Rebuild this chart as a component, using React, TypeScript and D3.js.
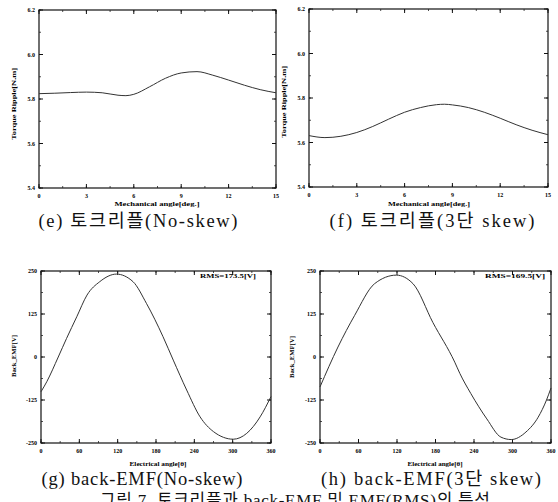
import React from "react";
import * as d3 from "d3";

const W = 558;
const H = 502;

// (e) torque ripple, no skew
const angleE = [0, 1, 2, 3, 4, 5, 5.5, 6, 7, 8, 9, 10, 11, 12, 13, 14, 15];
const rippleE = [5.824, 5.826, 5.829, 5.831, 5.828, 5.817, 5.815, 5.821, 5.855, 5.893, 5.917, 5.923, 5.907, 5.885, 5.862, 5.842, 5.828];

// (f) torque ripple, 3-step skew
const angleF = [0, 1, 2, 3, 4, 5, 6, 7, 8, 8.5, 9, 10, 11, 12, 13, 14, 15];
const rippleF = [5.631, 5.622, 5.628, 5.645, 5.672, 5.705, 5.736, 5.757, 5.77, 5.772, 5.769, 5.757, 5.736, 5.709, 5.68, 5.655, 5.635];

// (g) back-EMF, no skew
const angleG = [0, 9, 27, 40, 56, 72, 92, 118, 144, 165, 191, 207, 228, 249, 270, 301, 322, 343, 360];
const emfG = [-101, -72, 0, 54, 117, 180, 219, 241, 219, 156, 59, -9, -96, -174, -217, -239, -222, -174, -115];

// (h) back-EMF, 3-step skew
const angleH = [0, 28, 54, 85, 119, 145, 176, 210, 218, 235, 260, 282, 298, 321, 340, 353, 360];
const emfH = [-87, 29, 121, 213, 238, 213, 100, -15, -48, -106, -180, -233, -240, -218, -175, -125, -90];

const torqueXTicks = [0, 3, 6, 9, 12, 15];
const torqueYTicks = [5.4, 5.6, 5.8, 6.0, 6.2];
const emfXTicks = [0, 60, 120, 180, 240, 300, 360];
const emfYTicks = [-250, -125, 0, 125, 250];

const SERIF = "'Liberation Serif', 'Times New Roman', serif";
const KR = "'Liberation Serif', 'Noto Sans CJK KR', serif";

type PanelProps = {
  box: [number, number, number, number];
  xDomain: [number, number];
  yDomain: [number, number];
  xTicks: number[];
  yTicks: number[];
  xMinorStep: number;
  yMinorStep: number;
  yFmt: (v: number) => string;
  xs: number[];
  ys: number[];
  yLabel: string;
  yLabelPos: [number, number, number];
  xLabel: string;
  xLabelPos: [number, number, number];
  caption: string;
  captionPos: [number, number, number];
  rms?: string;
  rmsPos?: [number, number, number];
};

function Panel(p: PanelProps) {
  const [x0, x1, y0, y1] = p.box;
  const x = d3.scaleLinear().domain(p.xDomain).range([x0, x1]);
  const y = d3.scaleLinear().domain(p.yDomain).range([y1, y0]);
  const line = d3
    .line<number>()
    .x((_, i) => x(p.xs[i]))
    .y((d) => y(d))
    .curve(d3.curveMonotoneX);

  const xMinor = d3.range(p.xDomain[0], p.xDomain[1] + 1e-9, p.xMinorStep);
  const yMinor = d3.range(p.yDomain[0], p.yDomain[1] + 1e-9, p.yMinorStep);

  return (
    <g>
      <rect x={x0} y={y0} width={x1 - x0} height={y1 - y0} fill="none" stroke="#111" strokeWidth={1.2} />
      {/* minor ticks */}
      {xMinor.map((v, i) => (
        <g key={"xm" + i} stroke="#222" strokeWidth={0.8}>
          <line x1={x(v)} x2={x(v)} y1={y1} y2={y1 - 2} />
          <line x1={x(v)} x2={x(v)} y1={y0} y2={y0 + 2} />
        </g>
      ))}
      {yMinor.map((v, i) => (
        <g key={"ym" + i} stroke="#222" strokeWidth={0.8}>
          <line x1={x0} x2={x0 + 2} y1={y(v)} y2={y(v)} />
          <line x1={x1} x2={x1 - 2} y1={y(v)} y2={y(v)} />
        </g>
      ))}
      {/* major ticks + labels */}
      {p.xTicks.map((v) => (
        <g key={"xt" + v}>
          <line x1={x(v)} x2={x(v)} y1={y1} y2={y1 - 4} stroke="#111" strokeWidth={1} />
          <line x1={x(v)} x2={x(v)} y1={y0} y2={y0 + 4} stroke="#111" strokeWidth={1} />
          <text x={x(v)} y={y1 + 10} textAnchor="middle" fontFamily={SERIF} fontWeight="bold" fontSize={6}>
            {v}
          </text>
        </g>
      ))}
      {p.yTicks.map((v) => (
        <g key={"yt" + v}>
          <line x1={x0} x2={x0 + 4} y1={y(v)} y2={y(v)} stroke="#111" strokeWidth={1} />
          <line x1={x1} x2={x1 - 4} y1={y(v)} y2={y(v)} stroke="#111" strokeWidth={1} />
          <text x={x0 - 4} y={y(v) + 2} textAnchor="end" fontFamily={SERIF} fontWeight="bold" fontSize={6}>
            {p.yFmt(v)}
          </text>
        </g>
      ))}
      <path d={line(p.ys) || ""} fill="none" stroke="#333" strokeWidth={1} />
      <text
        transform={`translate(${p.yLabelPos[0]},${p.yLabelPos[1]}) rotate(-90)`}
        textAnchor="middle"
        fontFamily={SERIF}
        fontWeight="bold"
        fontSize={7}
        textLength={p.yLabelPos[2]}
        lengthAdjust="spacingAndGlyphs"
      >
        {p.yLabel}
      </text>
      <text
        x={p.xLabelPos[0] - p.xLabelPos[2] / 2}
        y={p.xLabelPos[1]}
        fontFamily={SERIF}
        fontWeight="bold"
        fontSize={7}
        textLength={p.xLabelPos[2]}
        lengthAdjust="spacingAndGlyphs"
      >
        {p.xLabel}
      </text>
      {p.rms && p.rmsPos && (
        <text
          x={p.rmsPos[0]}
          y={p.rmsPos[1]}
          fontFamily={SERIF}
          fontWeight="bold"
          fontSize={7}
          textLength={p.rmsPos[2]}
          lengthAdjust="spacingAndGlyphs"
        >
          {p.rms}
        </text>
      )}
      <text
        x={p.captionPos[0] - p.captionPos[2] / 2}
        y={p.captionPos[1]}
        fontFamily={KR}
        fontSize={18.5}
        fill="#111"
        textLength={p.captionPos[2]}
        lengthAdjust="spacing"
      >
        {p.caption}
      </text>
    </g>
  );
}

export default function App() {
  const f1 = d3.format(".1f");
  const f0 = (v: number) => String(v);
  return (
    <svg
      width={W}
      height={H}
      viewBox={`0 0 ${W} ${H}`}
      style={{ position: "absolute", left: 0, top: 0, background: "#fff" }}
    >
      <rect width={W} height={H} fill="#fff" />
      <Panel
        box={[39, 276, 10, 188]}
        xDomain={[0, 15]}
        yDomain={[5.4, 6.2]}
        xTicks={torqueXTicks}
        yTicks={torqueYTicks}
        xMinorStep={1.5}
        yMinorStep={0.1}
        yFmt={f1}
        xs={angleE}
        ys={rippleE}
        yLabel="Torque Ripple[N.m]"
        yLabelPos={[16, 104, 72]}
        xLabel="Mechanical angle[deg.]"
        xLabelPos={[157, 206, 85]}
        caption="(e) 토크리플(No-skew)"
        captionPos={[138, 227, 199]}
      />
      <Panel
        box={[309, 548, 9, 187]}
        xDomain={[0, 15]}
        yDomain={[5.4, 6.2]}
        xTicks={torqueXTicks}
        yTicks={torqueYTicks}
        xMinorStep={1.5}
        yMinorStep={0.1}
        yFmt={f1}
        xs={angleF}
        ys={rippleF}
        yLabel="Torque Ripple[N.m]"
        yLabelPos={[286, 102, 72]}
        xLabel="Mechanical angle[deg.]"
        xLabelPos={[429, 206, 82]}
        caption="(f) 토크리플(3단 skew)"
        captionPos={[432, 227, 205]}
      />
      <Panel
        box={[41, 271, 271, 443]}
        xDomain={[0, 360]}
        yDomain={[-250, 250]}
        xTicks={emfXTicks}
        yTicks={emfYTicks}
        xMinorStep={30}
        yMinorStep={62.5}
        yFmt={f0}
        xs={angleG}
        ys={emfG}
        yLabel="Back_EMF[V]"
        yLabelPos={[16, 356, 42]}
        xLabel="Electrical angle[θ]"
        xLabelPos={[158, 466, 57]}
        rms="RMS=173.5[V]"
        rmsPos={[200, 278, 56]}
        caption="(g) back-EMF(No-skew)"
        captionPos={[142, 485, 201]}
      />
      <Panel
        box={[320, 551, 271, 443]}
        xDomain={[0, 360]}
        yDomain={[-250, 250]}
        xTicks={emfXTicks}
        yTicks={emfYTicks}
        xMinorStep={30}
        yMinorStep={62.5}
        yFmt={f0}
        xs={angleH}
        ys={emfH}
        yLabel="Back_EMF[V]"
        yLabelPos={[294, 357, 42]}
        xLabel="Electrical angle[θ]"
        xLabelPos={[435, 466, 55]}
        rms="RMS=169.5[V]"
        rmsPos={[485, 278, 60]}
        caption="(h) back-EMF(3단 skew)"
        captionPos={[431, 485, 220]}
      />
      <text x={100} y={506} fontFamily={KR} fontSize={17} fill="#111" textLength={390} lengthAdjust="spacing">
        그림 7. 토크리플과 back-EMF 및 EMF(RMS)의 특성
      </text>
    </svg>
  );
}
